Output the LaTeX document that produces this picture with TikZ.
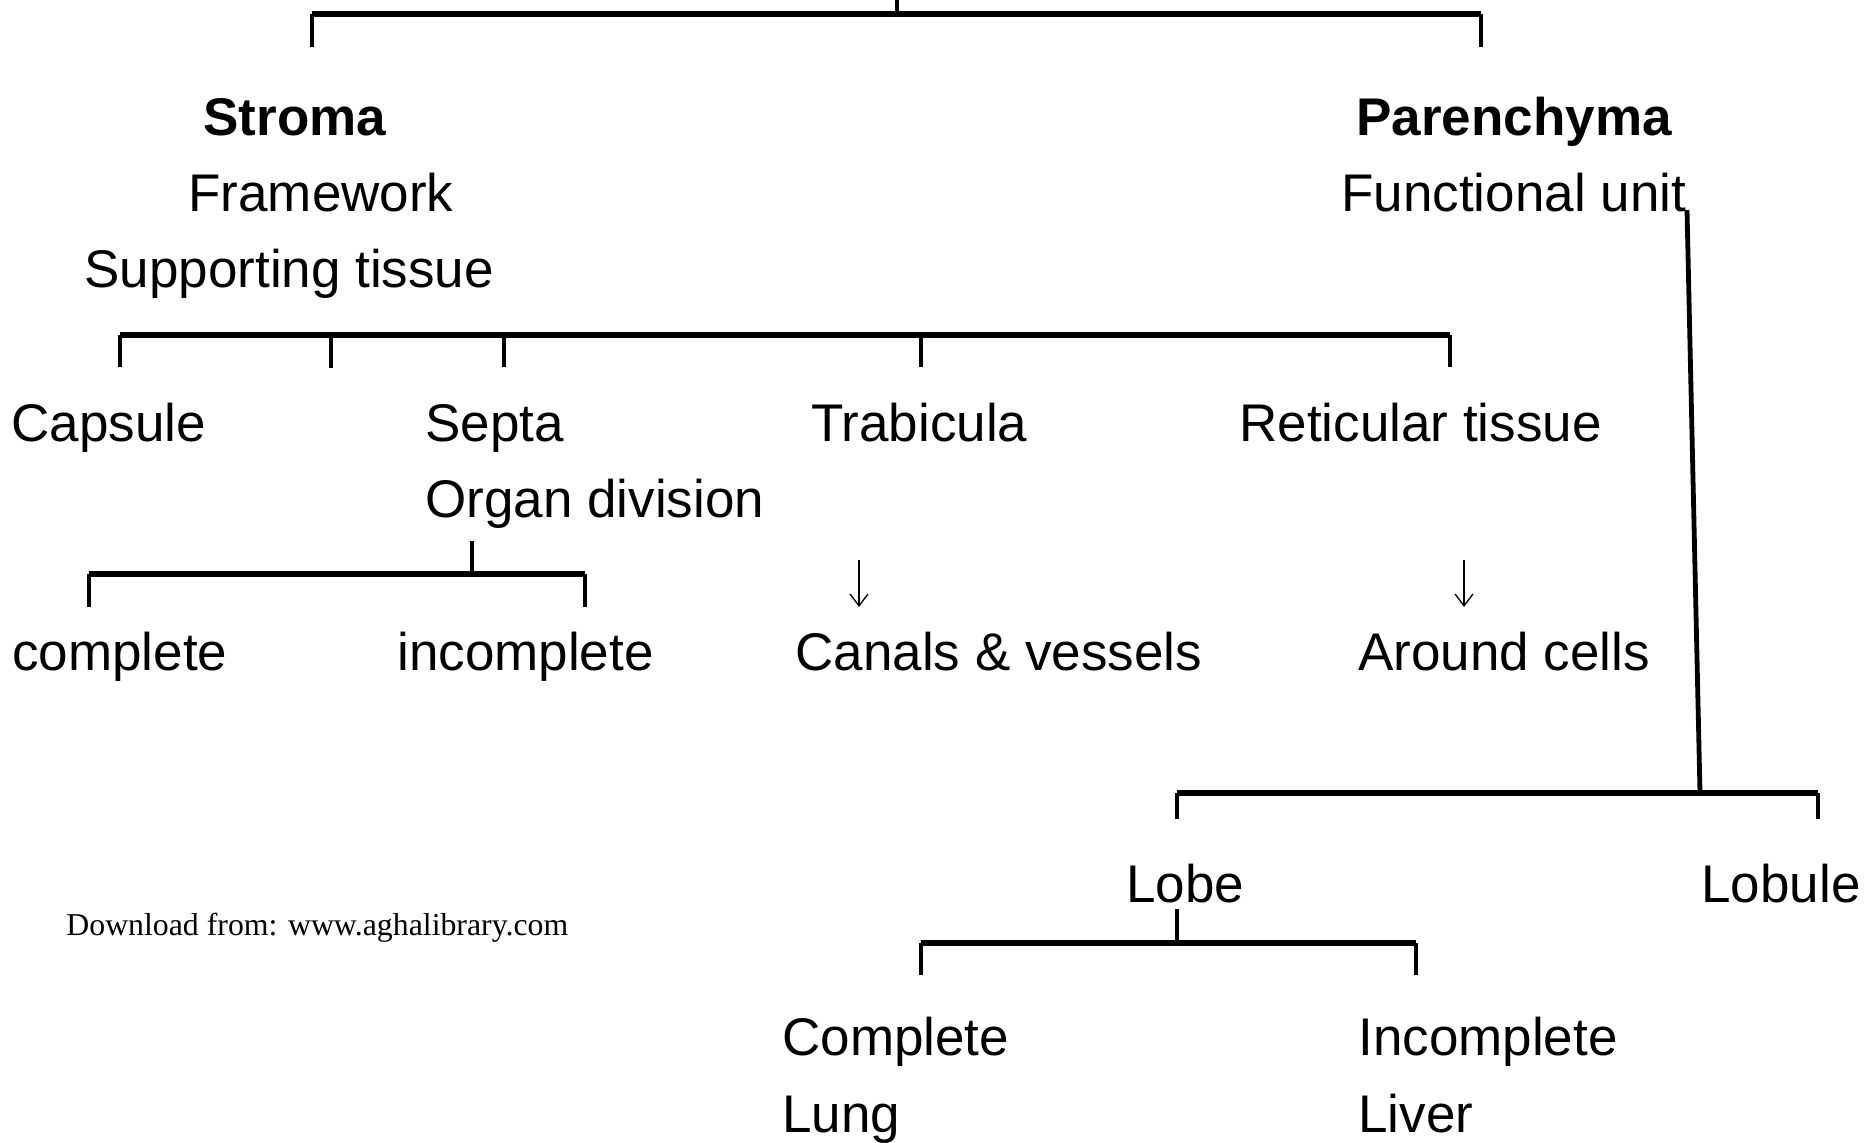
\documentclass[tikz,border=0pt]{standalone}
\usepackage{fontspec}
\setmainfont{Liberation Sans}
\newfontfamily\wmfont{Liberation Serif}
\usetikzlibrary{arrows.meta}
\begin{document}
\begin{tikzpicture}[x=0.5pt,y=-0.5pt,
  lbl/.style={font=\fontsize{26.5}{30}\selectfont, inner sep=0pt, anchor=base west},
  blbl/.style={lbl, font=\fontsize{26.5}{30}\selectfont\bfseries},
  wm/.style={font=\wmfont\fontsize{15.9}{18}\selectfont, inner sep=0pt, anchor=base west},
  bar/.style={line width=3pt},
  stem/.style={line width=2.4pt},
  darrow/.style={line width=0.65pt, -{Straight Barb[length=6pt,width=9pt]}}]
\useasboundingbox (0,0) rectangle (1868,1142);

% texts
\node[blbl] (stroma) at (203,135) {Stroma};
\node[lbl] (framework) at (188,211) {Framework};
\node[lbl] (support) at (84,287) {Supporting tissue};
\node[blbl] (parenchyma) at (1356,135) {Parenchyma};
\node[lbl] (functional) at (1341,211) {Functional unit};
\node[lbl] (capsule) at (11,441) {Capsule};
\node[lbl] (septa) at (425,441) {Septa};
\node[lbl] (organdiv) at (425,517) {Organ division};
\node[lbl] (trabicula) at (811,441) {Trabicula};
\node[lbl] (reticular) at (1239,441) {Reticular tissue};
\node[lbl] (complete) at (12,670) {complete};
\node[lbl] (incomplete) at (397,670) {incomplete};
\node[lbl] (canals) at (795,670) {Canals \& vessels};
\node[lbl] (around) at (1358,670) {Around cells};
\node[lbl] (lobe) at (1126,902) {Lobe};
\node[lbl] (lobule) at (1701,902) {Lobule};
\node[lbl] (complete2) at (782,1055) {Complete};
\node[lbl] (lung) at (782,1132) {Lung};
\node[lbl] (incomplete2) at (1358,1055) {Incomplete};
\node[lbl] (liver) at (1358,1132) {Liver};
\node[wm] (watermark) at (66,935) {Download from: www.aghalibrary.com};

% top bracket
\coordinate (t0) at (897,0);
\coordinate (t1) at (897,14);
\coordinate (tl) at (312,14);
\coordinate (tr) at (1481,14);
\coordinate (tld) at (312,47);
\coordinate (trd) at (1481,47);
\draw[stem] (t0) -- (t1);
\draw[bar] (tl) -- (tr);
\draw[stem] (tl) -- (tld);
\draw[stem] (tr) -- (trd);

% stroma bracket
\coordinate (s1) at (120,335);
\coordinate (s5) at (1450,335);
\draw[bar] (s1) -- (s5);
\foreach \x/\e in {120/367,331/368,504/367,921/367,1450/367}
  \draw[stem] (\x,335) -- (\x,\e);

% parenchyma line and lobule bracket
\coordinate (p0) at (1687,210);
\coordinate (p1) at (1700,793);
\coordinate (l1) at (1177,793);
\coordinate (l2) at (1818,793);
\coordinate (l1d) at (1177,819);
\coordinate (l2d) at (1818,819);
\draw[stem] (p0) -- (p1);
\draw[bar] (l1) -- (l2);
\draw[stem] (l1) -- (l1d);
\draw[stem] (l2) -- (l2d);

% septa bracket
\coordinate (sp0) at (472,541);
\coordinate (sp1) at (472,574);
\coordinate (spl) at (89,574);
\coordinate (spr) at (585,574);
\coordinate (spld) at (89,607);
\coordinate (sprd) at (585,607);
\draw[stem] (sp0) -- (sp1);
\draw[bar] (spl) -- (spr);
\draw[stem] (spl) -- (spld);
\draw[stem] (spr) -- (sprd);

% arrows
\coordinate (a1s) at (859,560);
\coordinate (a1e) at (859,607);
\coordinate (a2s) at (1464,560);
\coordinate (a2e) at (1464,607);
\draw[darrow] (a1s) -- (a1e);
\draw[darrow] (a2s) -- (a2e);

% lobe bracket
\coordinate (lb0) at (1177,909);
\coordinate (lb1) at (1177,943);
\coordinate (lbl) at (921,943);
\coordinate (lbr) at (1416,943);
\coordinate (lbld) at (921,975);
\coordinate (lbrd) at (1416,975);
\draw[stem] (lb0) -- (lb1);
\draw[bar] (lbl) -- (lbr);
\draw[stem] (lbl) -- (lbld);
\draw[stem] (lbr) -- (lbrd);
\end{tikzpicture}
\end{document}
